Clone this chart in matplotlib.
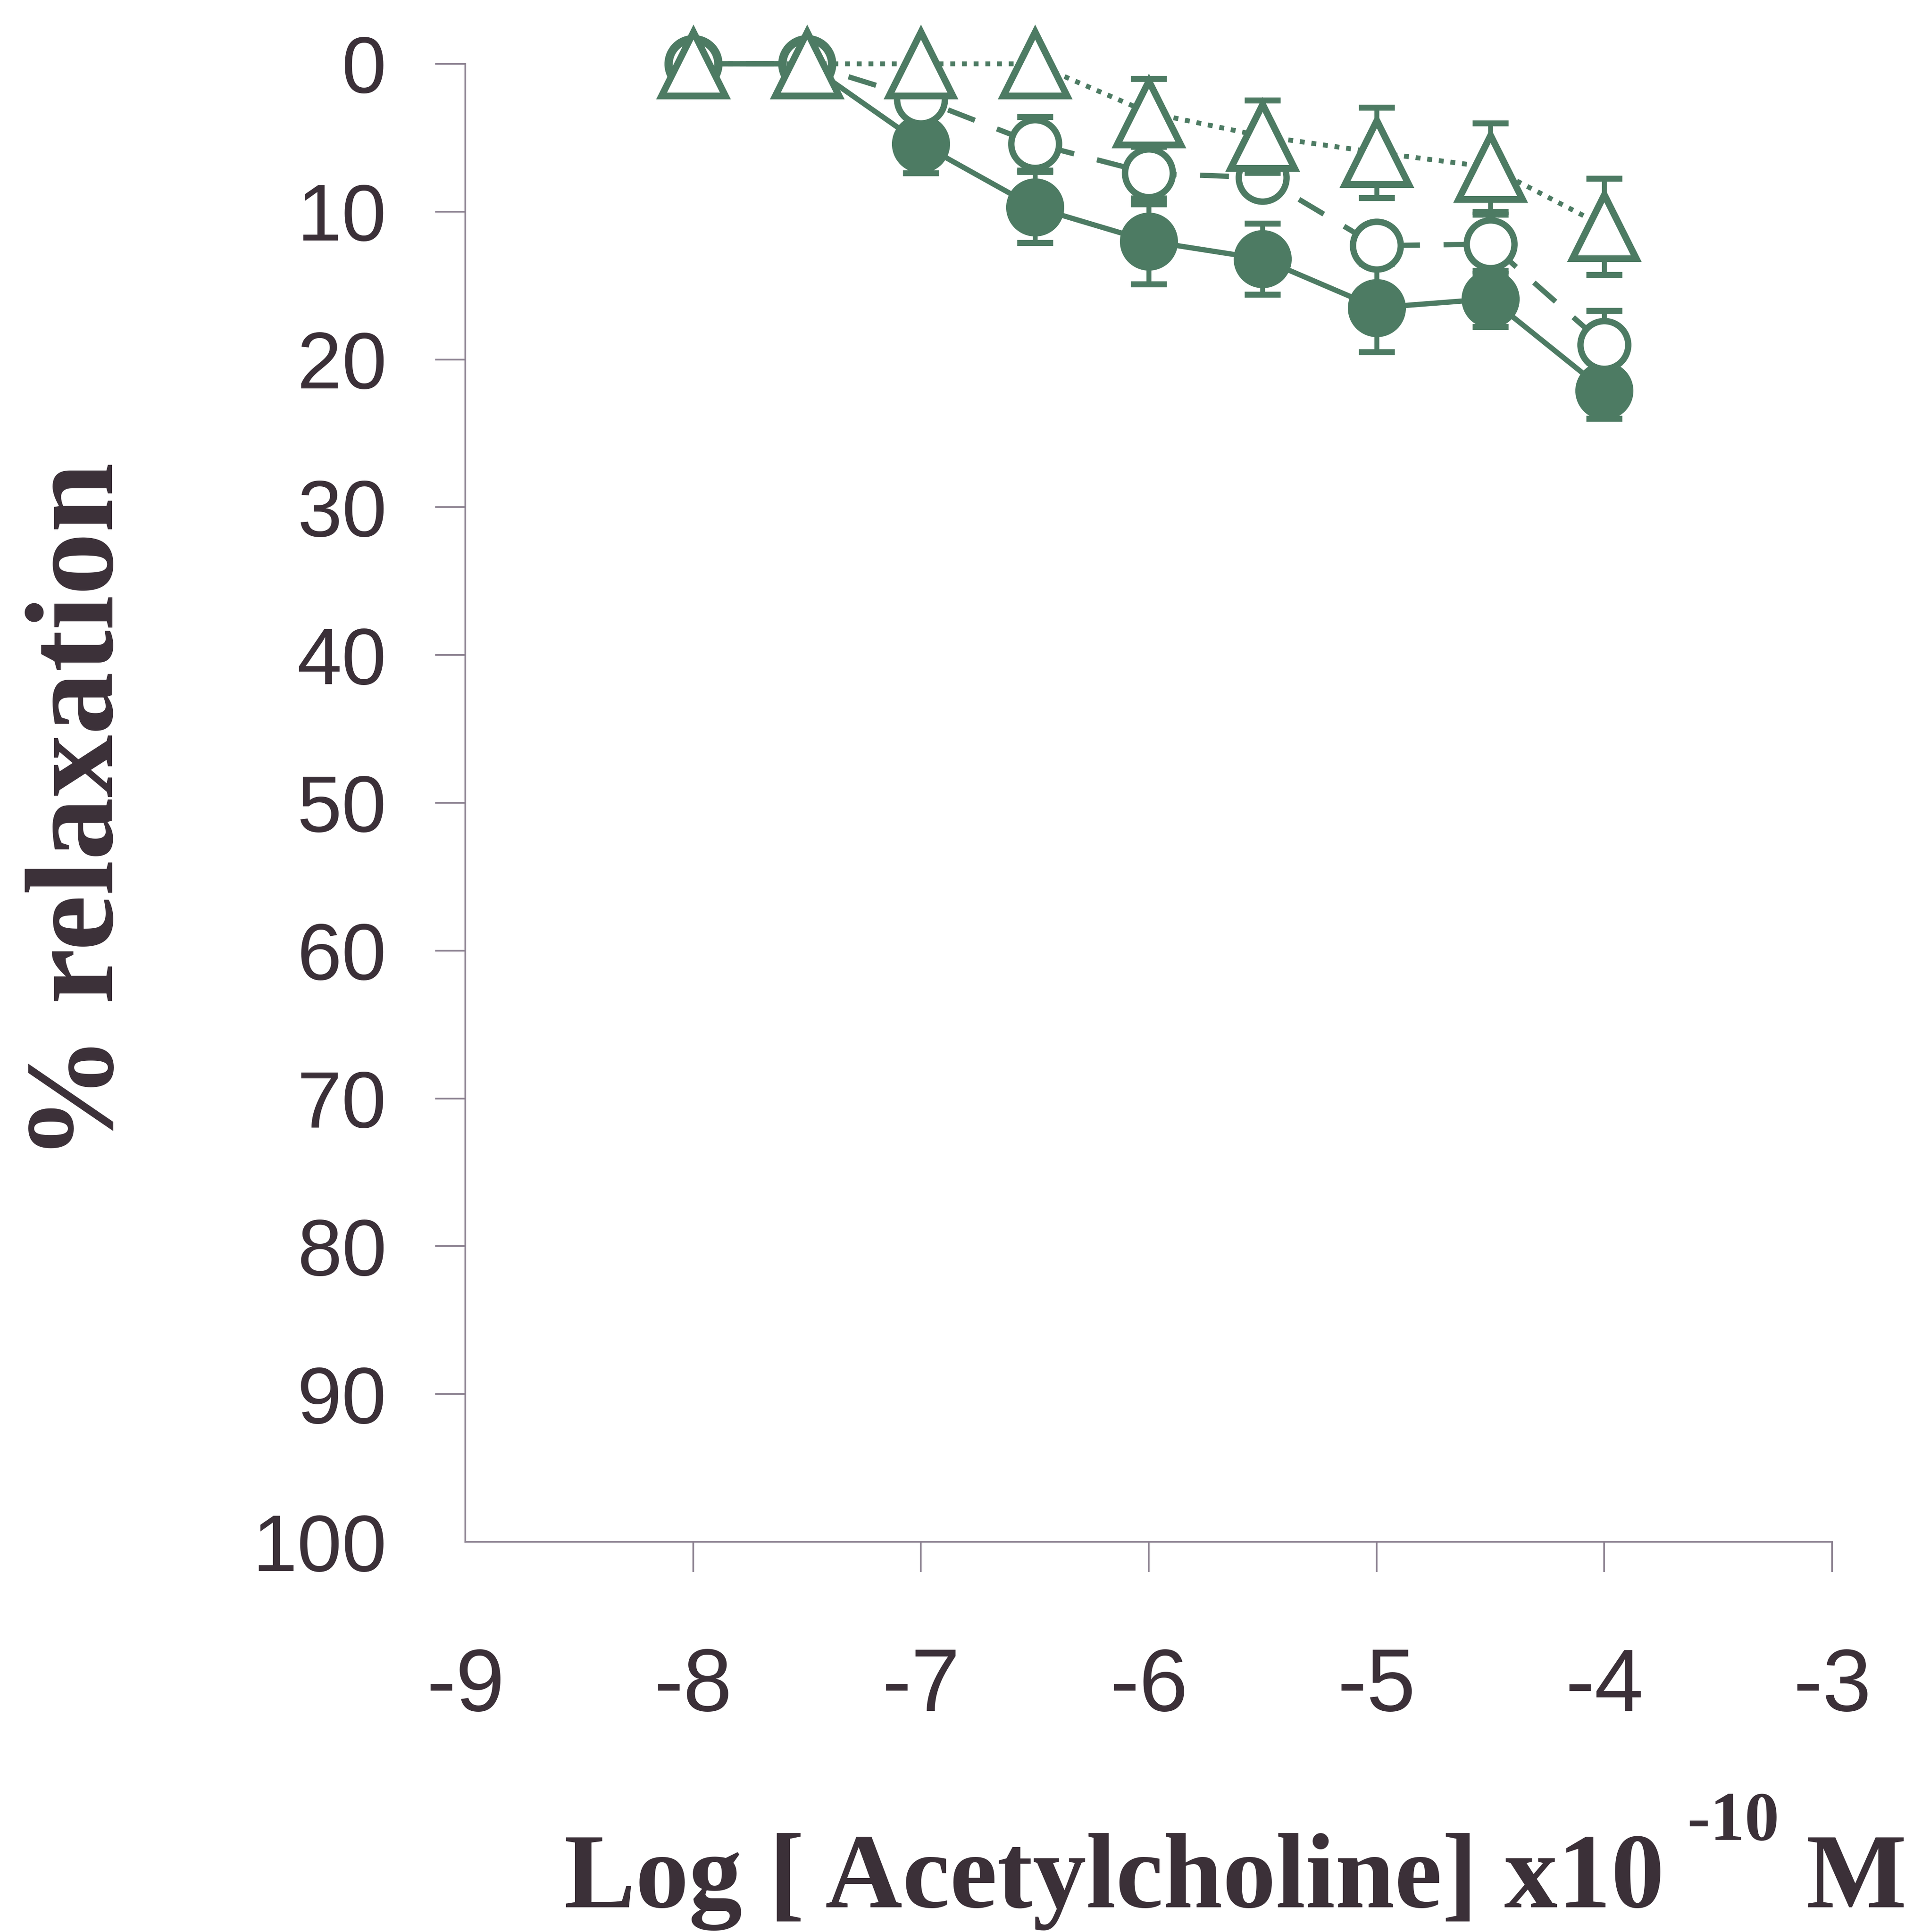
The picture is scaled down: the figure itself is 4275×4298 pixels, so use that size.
import numpy as np
import matplotlib
matplotlib.use("Agg")
import matplotlib.pyplot as plt
from matplotlib.transforms import IdentityTransform

# Concentration steps (log M) and mean % relaxation with SEM for three groups
log_conc = [-8.0, -7.5, -7.0, -6.5, -6.0, -5.5, -5.0, -4.5, -4.0]

filled_mean = [0.0, 0.0, 5.4, 9.7, 12.0, 13.2, 16.5, 15.9, 22.1]
filled_sem = [0.0, 0.0, 2.0, 2.4, 2.9, 2.4, 3.0, 1.9, 1.9]

open_mean = [0.0, 0.0, 2.4, 5.4, 7.4, 7.7, 12.3, 12.2, 19.0]
open_sem = [0.0, 0.0, 1.0, 1.8, 2.1, 1.0, 1.2, 2.0, 2.3]

tri_mean = [0.0, 0.0, 0.0, 0.0, 3.3, 4.9, 6.0, 7.0, 11.0]
tri_sem = [0.0, 0.0, 0.0, 0.0, 2.3, 2.45, 3.05, 3.0, 3.25]

x_ticks = [-9, -8, -7, -6, -5, -4, -3]
x_tick_labels = ["-9", "-8", "-7", "-6", "-5", "-4", "-3"]
y_ticks = [0, 10, 20, 30, 40, 50, 60, 70, 80, 90, 100]
y_tick_labels = ["0", "10", "20", "30", "40", "50", "60", "70", "80", "90", "100"]

GREEN = "#4d7b63"
INK = "#3b3038"
AXIS = "#8c8291"

W, H, DPI = 4275, 4298, 300
fig = plt.figure(figsize=(W / DPI, H / DPI), dpi=DPI)
fig.patch.set_facecolor("white")

left_px, right_px, top_px, bottom_px = 1035, 4075, 142, 3430
ax = fig.add_axes([left_px / W, 1 - bottom_px / H,
                   (right_px - left_px) / W, (bottom_px - top_px) / H])

ax.set_xlim(-9, -3)
ax.set_ylim(100, 0)
for side in ("top", "right"):
    ax.spines[side].set_visible(False)
for side in ("left", "bottom"):
    ax.spines[side].set_color(AXIS)
    ax.spines[side].set_linewidth(0.9)

ax.set_xticks(x_ticks)
ax.set_xticklabels(x_tick_labels, fontfamily="Liberation Sans")
ax.set_yticks(y_ticks)
ax.set_yticklabels(y_tick_labels, fontfamily="Liberation Sans")
ax.tick_params(axis="both", direction="out", length=16, width=0.9,
               color=AXIS, labelcolor=INK)
ax.tick_params(axis="x", labelsize=47, pad=40)
ax.tick_params(axis="y", labelsize=43, pad=26)
# corner ticks coincide with the other axis line
ax.xaxis.get_major_ticks()[0].tick1line.set_visible(False)
ax.yaxis.get_major_ticks()[-1].tick1line.set_visible(False)

x = np.array(log_conc)
series = [
    (np.array(filled_mean), np.array(filled_sem),
     dict(marker="o", ms=28, mfc=GREEN, mec=GREEN, mew=3.0,
          ls="-", lw=2.8), 2),
    (np.array(open_mean), np.array(open_sem),
     dict(marker="o", ms=25.5, mfc="white", mec=GREEN, mew=3.4,
          ls=(0, (5.5, 4.5)), lw=2.8), 4),
    (np.array(tri_mean), np.array(tri_sem),
     dict(marker="^", ms=34, mfc="white", mec=GREEN, mew=3.6,
          ls=(0, (1.0, 1.4)), lw=2.6), 6),
]

for mean, sem, style, z in series:
    has_err = sem > 0
    ax.errorbar(x[has_err], mean[has_err], yerr=sem[has_err], fmt="none",
                ecolor=GREEN, elinewidth=2.6, capsize=9.5, capthick=3.2,
                zorder=z, clip_on=False)
    ax.plot(x, mean, color=GREEN, zorder=z + 1, clip_on=False, **style)

# y-axis title
fig.text(250 / W, 1 - 1805 / H, "% relaxation", rotation=90,
         rotation_mode="anchor", ha="center", va="baseline",
         fontfamily="Liberation Serif", fontweight="bold", fontsize=67,
         color=INK)

# x-axis title with superscript exponent
base_y = H - 4243
main = fig.text(1255, base_y, "Log [ Acetylcholine] x10",
                transform=IdentityTransform(), ha="left", va="baseline",
                fontfamily="Liberation Serif", fontweight="bold",
                fontsize=57, color=INK)
fig.canvas.draw()
renderer = fig.canvas.get_renderer()
bb = main.get_window_extent(renderer)
sup = fig.text(bb.x1 + 50, base_y + 150, "-10",
               transform=IdentityTransform(), ha="left", va="baseline",
               fontfamily="Liberation Serif", fontweight="bold",
               fontsize=37, color=INK)
bb2 = sup.get_window_extent(renderer)
fig.text(bb2.x1 + 60, base_y, "M",
         transform=IdentityTransform(), ha="left", va="baseline",
         fontfamily="Liberation Serif", fontweight="bold",
         fontsize=57, color=INK)

fig.savefig("out.png", dpi=DPI, facecolor="white")
